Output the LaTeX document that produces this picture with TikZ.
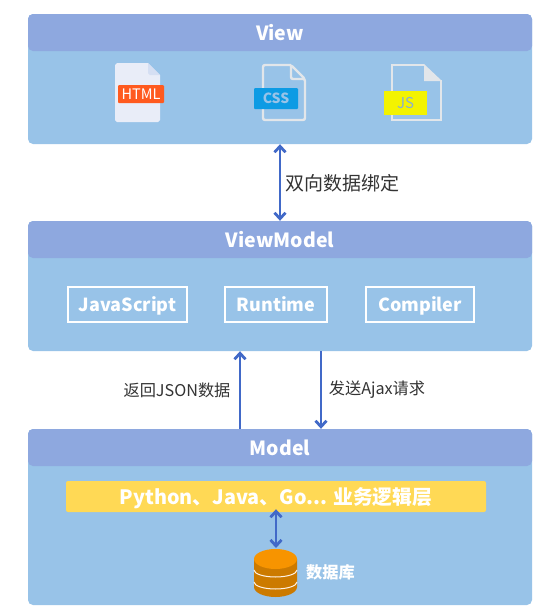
\documentclass[tikz,border=0pt]{standalone}
\usepackage{fontspec}
\usepackage{xcolor}
\setmainfont{Noto Sans CJK SC}
\definecolor{panelblue}{HTML}{98C3E8}
\definecolor{headblue}{HTML}{8EA8DF}
\definecolor{arrowblue}{HTML}{4169C8}
\definecolor{baryellow}{HTML}{FFD955}
\definecolor{sheetgrey}{HTML}{E2E6EA}
\definecolor{htmlpage}{HTML}{E9EDF8}
\definecolor{htmlfold}{HTML}{D5DFF3}
\definecolor{htmlred}{HTML}{FF5A1F}
\definecolor{cssblue}{HTML}{0D9BE4}
\definecolor{jsyellow}{HTML}{F3F300}
\definecolor{dbtopcol}{HTML}{F79400}
\definecolor{dbsidecol}{HTML}{CC7A00}
\usetikzlibrary{arrows.meta}
\tikzset{
  panelbox/.style={fill=panelblue, rounded corners=5pt, minimum width=504pt, inner sep=0pt},
  headbox/.style={fill=headblue, rounded corners=5pt, minimum width=504pt, minimum height=37pt, inner sep=0pt, text=white, font=\fontsize{19.5}{22}\selectfont\bfseries},
  techbox/.style={draw=white, line width=1.4pt, minimum height=35pt, inner sep=0pt, text height=16pt, text depth=2pt, text=white, font=\fontsize{18}{20}\selectfont\bfseries},
  linkarrow/.style={draw=arrowblue, line width=2.8pt, -{Straight Barb[length=6pt,width=11pt]}},
  bothways/.style={linkarrow, {Straight Barb[length=6pt,width=11pt]}-{Straight Barb[length=6pt,width=11pt]}},
  linklabel/.style={font=\fontsize{16.2}{18}\selectfont, text=black!80, inner sep=0pt},
  badge/.style={rounded corners=1pt, inner sep=0pt, font=\fontsize{14}{16}\selectfont}
}
\begin{document}
\begin{tikzpicture}[x=1pt, y=-1pt]
        \useasboundingbox (0,0) rectangle (551,614);
        % Layer boxes
        \node[panelbox, minimum height=130pt] (viewpanel) at (280,79) {};
        \node[headbox] (viewhead) at (280,32.5) {View};
        \node[panelbox, minimum height=130pt] (vmpanel) at (280,286) {};
        \node[headbox] (vmhead) at (280,239.5) {ViewModel};
        \node[panelbox, minimum height=176pt] (modelpanel) at (280,517) {};
        \node[headbox] (modelhead) at (280,447.5) {Model};

        % HTML file
        \fill[htmlpage] (117,63) -- (148,63) -- (160,75) -- (160,120) -- (158,122) -- (117,122) -- (115,120) -- (115,65) -- cycle;
        \fill[htmlfold] (148,63) -- (160,75) -- (150,75) -- (148,73) -- cycle;
        \node[badge, fill=htmlred, text=white, font=\fontsize{14.5}{16}\selectfont, minimum width=46pt, minimum height=18pt] (htmlbadge) at (141,94) {HTML};

        % CSS file
        \draw[sheetgrey, line width=2.4pt, rounded corners=2pt] (291,65) -- (263,65) -- (263,120) -- (305,120) -- (305,79) -- (291,65) -- (291,79) -- (305,79);
        \node[badge, fill=cssblue, text=panelblue, font=\fontsize{14}{16}\selectfont\bfseries, minimum width=44pt, minimum height=21pt] (cssbadge) at (276,98.5) {CSS};

        % JS file
        \draw[sheetgrey, line width=2.4pt] (424,65) -- (392,65) -- (392,120) -- (441,120) -- (441,80);
        \fill[sheetgrey] (424,64) -- (442,81) -- (424,81) -- cycle;
        \node[badge, fill=jsyellow, text=panelblue!90!black, font=\fontsize{15}{17}\selectfont, minimum width=43pt, minimum height=24pt, rounded corners=0pt] (jsbadge) at (405.5,103) {JS};

        % ViewModel contents
        \node[techbox, minimum width=119pt] (jsbox) at (127.5,304.5) {JavaScript};
        \node[techbox, minimum width=102pt] (runtimebox) at (276,304.5) {Runtime};
        \node[techbox, minimum width=108pt] (compilerbox) at (420,304.5) {Compiler};

        % Model contents
        \node[fill=baryellow, rounded corners=2pt, minimum width=420pt, minimum height=31pt, inner sep=0pt, text height=17pt, text depth=1pt, text=white, font=\fontsize{19.8}{22}\selectfont\bfseries] (logicbar) at (276,496.5) {Python、Java、Go... 业务逻辑层};
        \coordinate (dbtop) at (276,548);
        \fill[dbsidecol] (254,559) -- (254,587) arc[start angle=180, end angle=360, x radius=21.5pt, y radius=10pt] -- (297,559) -- cycle;
        \draw[white!90!orange, line width=1pt] (254,570) arc[start angle=180, end angle=360, x radius=21.5pt, y radius=7pt];
        \draw[white!90!orange, line width=1pt] (254,582) arc[start angle=180, end angle=360, x radius=21.5pt, y radius=7pt];
        \fill[dbtopcol] (275.5,559) ellipse[x radius=21.5pt, y radius=10pt];
        \node[text=white, inner sep=0pt, font=\fontsize{16.2}{18}\selectfont\bfseries] (dblabel) at (330.5,572.5) {数据库};

        % Links
        \draw[bothways] (viewpanel.south) -- (vmhead.north);
        \draw[linkarrow] ([xshift=-40pt]modelhead.north) -- ([xshift=-40pt]vmpanel.south);
        \draw[linkarrow] ([xshift=41pt]vmpanel.south) -- ([xshift=41pt]modelhead.north);
        \draw[bothways] ([yshift=3pt]logicbar.south) -- (dbtop);

        \node[linklabel, font=\fontsize{19}{21}\selectfont] (bindlabel) at (342,183) {双向数据绑定};
        \node[linklabel] (backlabel) at (177,390.5) {返回JSON数据};
        \node[linklabel] (sendlabel) at (377,390) {发送Ajax请求};
    \end{tikzpicture}
\end{document}
